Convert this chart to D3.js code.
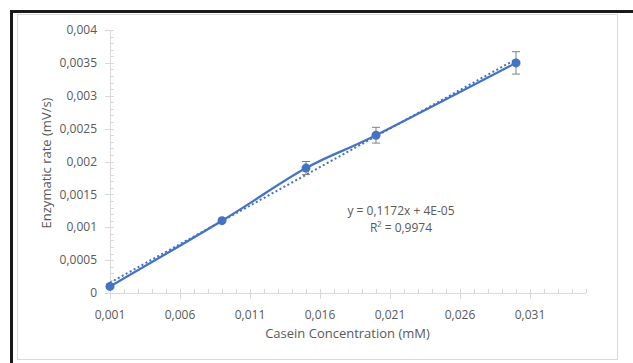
<!DOCTYPE html>
<html lang="en">
<head>
    <meta charset="UTF-8">
    <title>Enzymatic rate</title>
    <script src="https://cdnjs.cloudflare.com/ajax/libs/d3/7.8.5/d3.min.js"></script>
    <style type="text/css">
        body { margin: 0; background: #fff; }
        svg { display: block; font-family: "Open Sans", sans-serif; }
    </style>
</head>
<body>
<div class="container"></div>
</body>
<script>
    const concentration = [0.001, 0.009, 0.015, 0.020, 0.030];
    const rate = [0.0001, 0.0011, 0.0019, 0.0024, 0.0035];
    const rateError = [0.00002, 0.00002, 0.0001, 0.00012, 0.00017];

    const xTicks = [0.001, 0.006, 0.011, 0.016, 0.021, 0.026, 0.031];
    const xTickLabels = ['0,001', '0,006', '0,011', '0,016', '0,021', '0,026', '0,031'];
    const yTicks = [0, 0.0005, 0.001, 0.0015, 0.002, 0.0025, 0.003, 0.0035, 0.004];
    const yTickLabels = ['0', '0,0005', '0,001', '0,0015', '0,002', '0,0025', '0,003', '0,0035', '0,004'];

    const slope = 0.1172, intercept = 0.00004;
    const equationLines = ['y = 0,1172x + 4E-05', 'R\u00B2 = 0,9974'];

    const blue = '#4472C4';
    const grey = '#595959';
    const axisGrey = '#d9d9d9';

    const svg = d3.select('.container')
        .append('svg')
        .attr('width', 633)
        .attr('height', 363);

    // frames
    svg.append('rect')
        .attr('x', 17.5).attr('y', 14.5)
        .attr('width', 600).attr('height', 345)
        .attr('fill', '#fff')
        .attr('stroke', '#d9d9d9');

    svg.append('path')
        .attr('d', 'M11.5,363 V11.5 H633')
        .attr('fill', 'none')
        .attr('stroke', '#1a1a1a')
        .attr('stroke-width', 3);

    const xScale = d3.scaleLinear().domain([0.001, 0.035]).range([110, 586]);
    const yScale = d3.scaleLinear().domain([0, 0.004]).range([293, 30]);

    // x axis: minor ticks inside, major ticks outside
    const xMinor = d3.range(0, 35).map(i => 0.001 + i * 0.001);
    const gx = svg.append('g');
    gx.append('line')
        .attr('x1', xScale.range()[0]).attr('x2', xScale.range()[1])
        .attr('y1', yScale(0) + 0.5).attr('y2', yScale(0) + 0.5)
        .attr('stroke', axisGrey);
    gx.selectAll('line.minor')
        .data(xMinor)
        .enter().append('line')
        .attr('class', 'minor')
        .attr('x1', d => Math.round(xScale(d)) + 0.5).attr('x2', d => Math.round(xScale(d)) + 0.5)
        .attr('y1', yScale(0) - 4).attr('y2', yScale(0))
        .attr('stroke', axisGrey);
    gx.selectAll('line.major')
        .data(xTicks)
        .enter().append('line')
        .attr('class', 'major')
        .attr('x1', d => Math.round(xScale(d)) + 0.5).attr('x2', d => Math.round(xScale(d)) + 0.5)
        .attr('y1', yScale(0)).attr('y2', yScale(0) + 6)
        .attr('stroke', axisGrey);
    gx.selectAll('text')
        .data(xTicks)
        .enter().append('text')
        .attr('x', d => xScale(d))
        .attr('y', 319)
        .attr('text-anchor', 'middle')
        .attr('font-size', 12)
        .attr('fill', grey)
        .text((d, i) => xTickLabels[i]);

    // y axis
    const yMinor = d3.range(0, 41).map(i => i * 0.0001);
    const gy = svg.append('g');
    gy.append('line')
        .attr('x1', xScale(0.001) + 0.5).attr('x2', xScale(0.001) + 0.5)
        .attr('y1', yScale(0.004)).attr('y2', yScale(0))
        .attr('stroke', axisGrey);
    gy.selectAll('line.minor')
        .data(yMinor)
        .enter().append('line')
        .attr('class', 'minor')
        .attr('x1', xScale(0.001)).attr('x2', xScale(0.001) + 4)
        .attr('y1', d => Math.round(yScale(d)) + 0.5).attr('y2', d => Math.round(yScale(d)) + 0.5)
        .attr('stroke', axisGrey);
    gy.selectAll('line.major')
        .data(yTicks)
        .enter().append('line')
        .attr('class', 'major')
        .attr('x1', xScale(0.001) - 5).attr('x2', xScale(0.001))
        .attr('y1', d => Math.round(yScale(d)) + 0.5).attr('y2', d => Math.round(yScale(d)) + 0.5)
        .attr('stroke', axisGrey);
    gy.selectAll('text')
        .data(yTicks)
        .enter().append('text')
        .attr('x', 97)
        .attr('y', d => yScale(d))
        .attr('dy', '0.35em')
        .attr('text-anchor', 'end')
        .attr('font-size', 12)
        .attr('fill', grey)
        .text((d, i) => yTickLabels[i]);

    // axis titles
    svg.append('text')
        .attr('x', 347.5).attr('y', 338)
        .attr('text-anchor', 'middle')
        .attr('font-size', 13)
        .attr('fill', grey)
        .text('Casein Concentration (mM)');

    svg.append('text')
        .attr('transform', 'translate(51, 163) rotate(-90)')
        .attr('text-anchor', 'middle')
        .attr('font-size', 13)
        .attr('fill', grey)
        .text('Enzymatic rate (mV/s)');

    const points = concentration.map((c, i) => ({x: c, y: rate[i], e: rateError[i]}));

    // linear trendline (dotted)
    const trend = [concentration[0], concentration[concentration.length - 1]]
        .map(x => ({x: x, y: slope * x + intercept}));
    svg.append('path')
        .attr('fill', 'none')
        .attr('stroke', blue)
        .attr('stroke-width', 2)
        .attr('stroke-dasharray', '2,2.5')
        .attr('d', d3.line().x(d => xScale(d.x)).y(d => yScale(d.y))(trend));

    // data line
    const line = d3.line()
        .x(d => xScale(d.x))
        .y(d => yScale(d.y))
        .curve(d3.curveCatmullRom.alpha(0));
    svg.append('path')
        .attr('fill', 'none')
        .attr('stroke', blue)
        .attr('stroke-width', 2.25)
        .attr('d', line(points));

    // error bars
    const err = svg.append('g')
        .attr('stroke', '#808080')
        .attr('stroke-width', 1);
    err.selectAll('line.v')
        .data(points)
        .enter().append('line')
        .attr('class', 'v')
        .attr('x1', d => xScale(d.x)).attr('x2', d => xScale(d.x))
        .attr('y1', d => yScale(d.y + d.e)).attr('y2', d => yScale(d.y - d.e));
    err.selectAll('line.top')
        .data(points)
        .enter().append('line')
        .attr('class', 'top')
        .attr('x1', d => xScale(d.x) - 4).attr('x2', d => xScale(d.x) + 4)
        .attr('y1', d => yScale(d.y + d.e)).attr('y2', d => yScale(d.y + d.e));
    err.selectAll('line.bottom')
        .data(points)
        .enter().append('line')
        .attr('class', 'bottom')
        .attr('x1', d => xScale(d.x) - 4).attr('x2', d => xScale(d.x) + 4)
        .attr('y1', d => yScale(d.y - d.e)).attr('y2', d => yScale(d.y - d.e));

    svg.selectAll('circle')
        .data(points)
        .enter().append('circle')
        .attr('fill', blue)
        .attr('cx', d => xScale(d.x))
        .attr('cy', d => yScale(d.y))
        .attr('r', 4.5);

    // equation label
    svg.append('text')
        .attr('text-anchor', 'middle')
        .attr('font-size', 12)
        .attr('fill', grey)
        .selectAll('tspan')
        .data(equationLines)
        .enter().append('tspan')
        .attr('x', 401)
        .attr('y', (d, i) => 215 + i * 17)
        .text(d => d);
</script>
</html>
